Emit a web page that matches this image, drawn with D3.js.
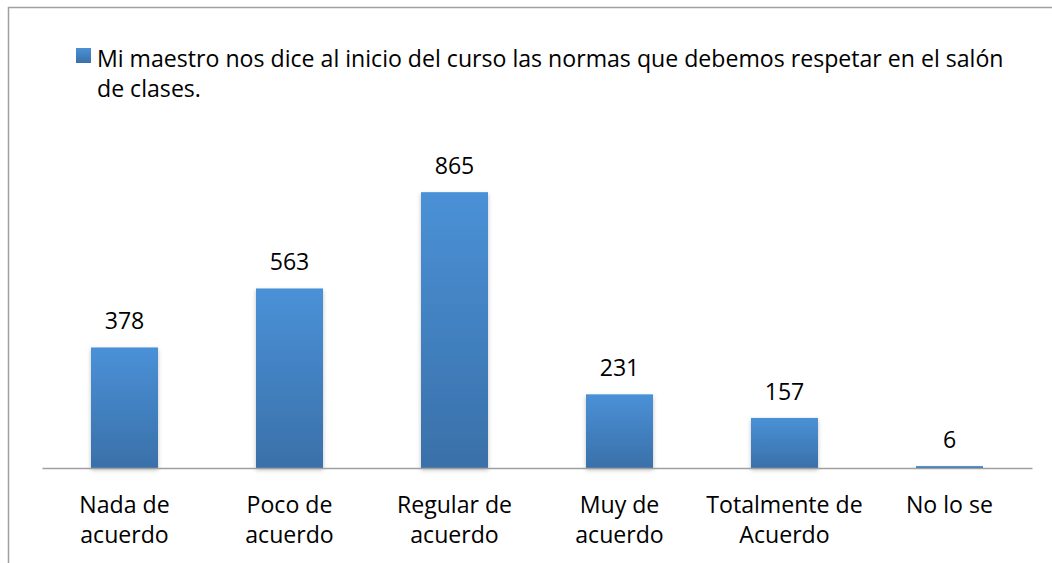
<!DOCTYPE html>
<html>
<head>
<meta charset="utf-8">
<script src="https://cdn.jsdelivr.net/npm/d3@7"></script>
<style>
  body { margin: 0; background: #fff; }
  text { font-family: "Open Sans", Lato, sans-serif; fill: #000; }
</style>
</head>
<body>
<svg id="chart" width="1052" height="563"></svg>
<script>
const categories = [["Nada de", "acuerdo"], ["Poco de", "acuerdo"], ["Regular de", "acuerdo"],
                    ["Muy de", "acuerdo"], ["Totalmente de", "Acuerdo"], ["No lo se"]];
const values = [378, 563, 865, 231, 157, 6];
const seriesName = ["Mi maestro nos dice al inicio del curso las normas que debemos respetar en el salón", "de clases."];

var svg = d3.select("#chart"),
    margin = {top: 181, right: 20, bottom: 95, left: 42};

// font size picked so the legend line spans the same width as the original
var probe = svg.append("text").attr("font-size", "20px").text(seriesName[0]);
var fs = 20 * 907 / probe.node().getComputedTextLength();
probe.remove();

// chart frame
svg.append("path")
    .attr("d", "M8.5,563 L8.5,7.5 L1060,7.5")
    .attr("fill", "none")
    .attr("stroke", "#a0a0a0")
    .attr("stroke-width", 1.5);

var defs = svg.append("defs");
var grad = defs.append("linearGradient")
    .attr("id", "barGrad")
    .attr("x1", 0).attr("y1", 0).attr("x2", 0).attr("y2", 1);
grad.append("stop").attr("offset", "0%").attr("stop-color", "#4a91d7");
grad.append("stop").attr("offset", "100%").attr("stop-color", "#3a70a9");

var shadow = defs.append("filter").attr("id", "shadow")
    .attr("x", "-20%").attr("y", "-5%").attr("width", "140%").attr("height", "115%");
shadow.append("feDropShadow")
    .attr("dx", 0).attr("dy", 2).attr("stdDeviation", 2)
    .attr("flood-color", "#000").attr("flood-opacity", 0.25);

var xScale = d3.scaleBand()
    .domain(d3.range(categories.length))
    .range([margin.left, 1032])
    .paddingInner(0.594)
    .paddingOuter(0.297);

var yScale = d3.scaleLinear()
    .domain([0, 900])
    .range([468, margin.top]);

svg.selectAll("rect.bar")
    .data(values)
    .enter()
    .append("rect")
    .attr("class", "bar")
    .attr("x", (d, i) => xScale(i))
    .attr("y", d => yScale(d))
    .attr("width", xScale.bandwidth())
    .attr("height", d => yScale(0) - yScale(d))
    .attr("fill", "url(#barGrad)")
    .attr("filter", "url(#shadow)");

// axis
var xAxis = svg.append("g")
    .attr("transform", `translate(0,${yScale(0)})`)
    .call(d3.axisBottom(xScale).tickSize(0).tickFormat(""));
xAxis.select(".domain").attr("stroke", "#a0a0a0").attr("stroke-width", 1.5);

// category labels
svg.selectAll("text.cat")
    .data(categories)
    .enter()
    .append("text")
    .attr("class", "cat")
    .attr("text-anchor", "middle")
    .attr("font-size", fs + "px")
    .attr("x", (d, i) => xScale(i) + xScale.bandwidth() / 2)
    .attr("y", 513)
    .selectAll("tspan")
    .data(d => d)
    .enter()
    .append("tspan")
    .attr("x", function() { return this.parentNode.getAttribute("x"); })
    .attr("dy", (d, i) => i ? 30 : 0)
    .text(d => d);

// value labels
svg.selectAll("text.val")
    .data(values)
    .enter()
    .append("text")
    .attr("class", "val")
    .attr("text-anchor", "middle")
    .attr("font-size", fs + "px")
    .attr("x", (d, i) => xScale(i) + xScale.bandwidth() / 2)
    .attr("y", d => yScale(d) - 18)
    .text(d => d);

// legend
var legend = svg.append("g").attr("class", "legend");
legend.append("rect")
    .attr("x", 76).attr("y", 48)
    .attr("width", 15).attr("height", 15)
    .attr("fill", "url(#barGrad)");
legend.append("text")
    .attr("x", 97).attr("y", 67)
    .attr("font-size", fs + "px")
    .selectAll("tspan")
    .data(seriesName)
    .enter()
    .append("tspan")
    .attr("x", 97)
    .attr("dy", (d, i) => i ? 30 : 0)
    .text(d => d);
</script>
</body>
</html>
